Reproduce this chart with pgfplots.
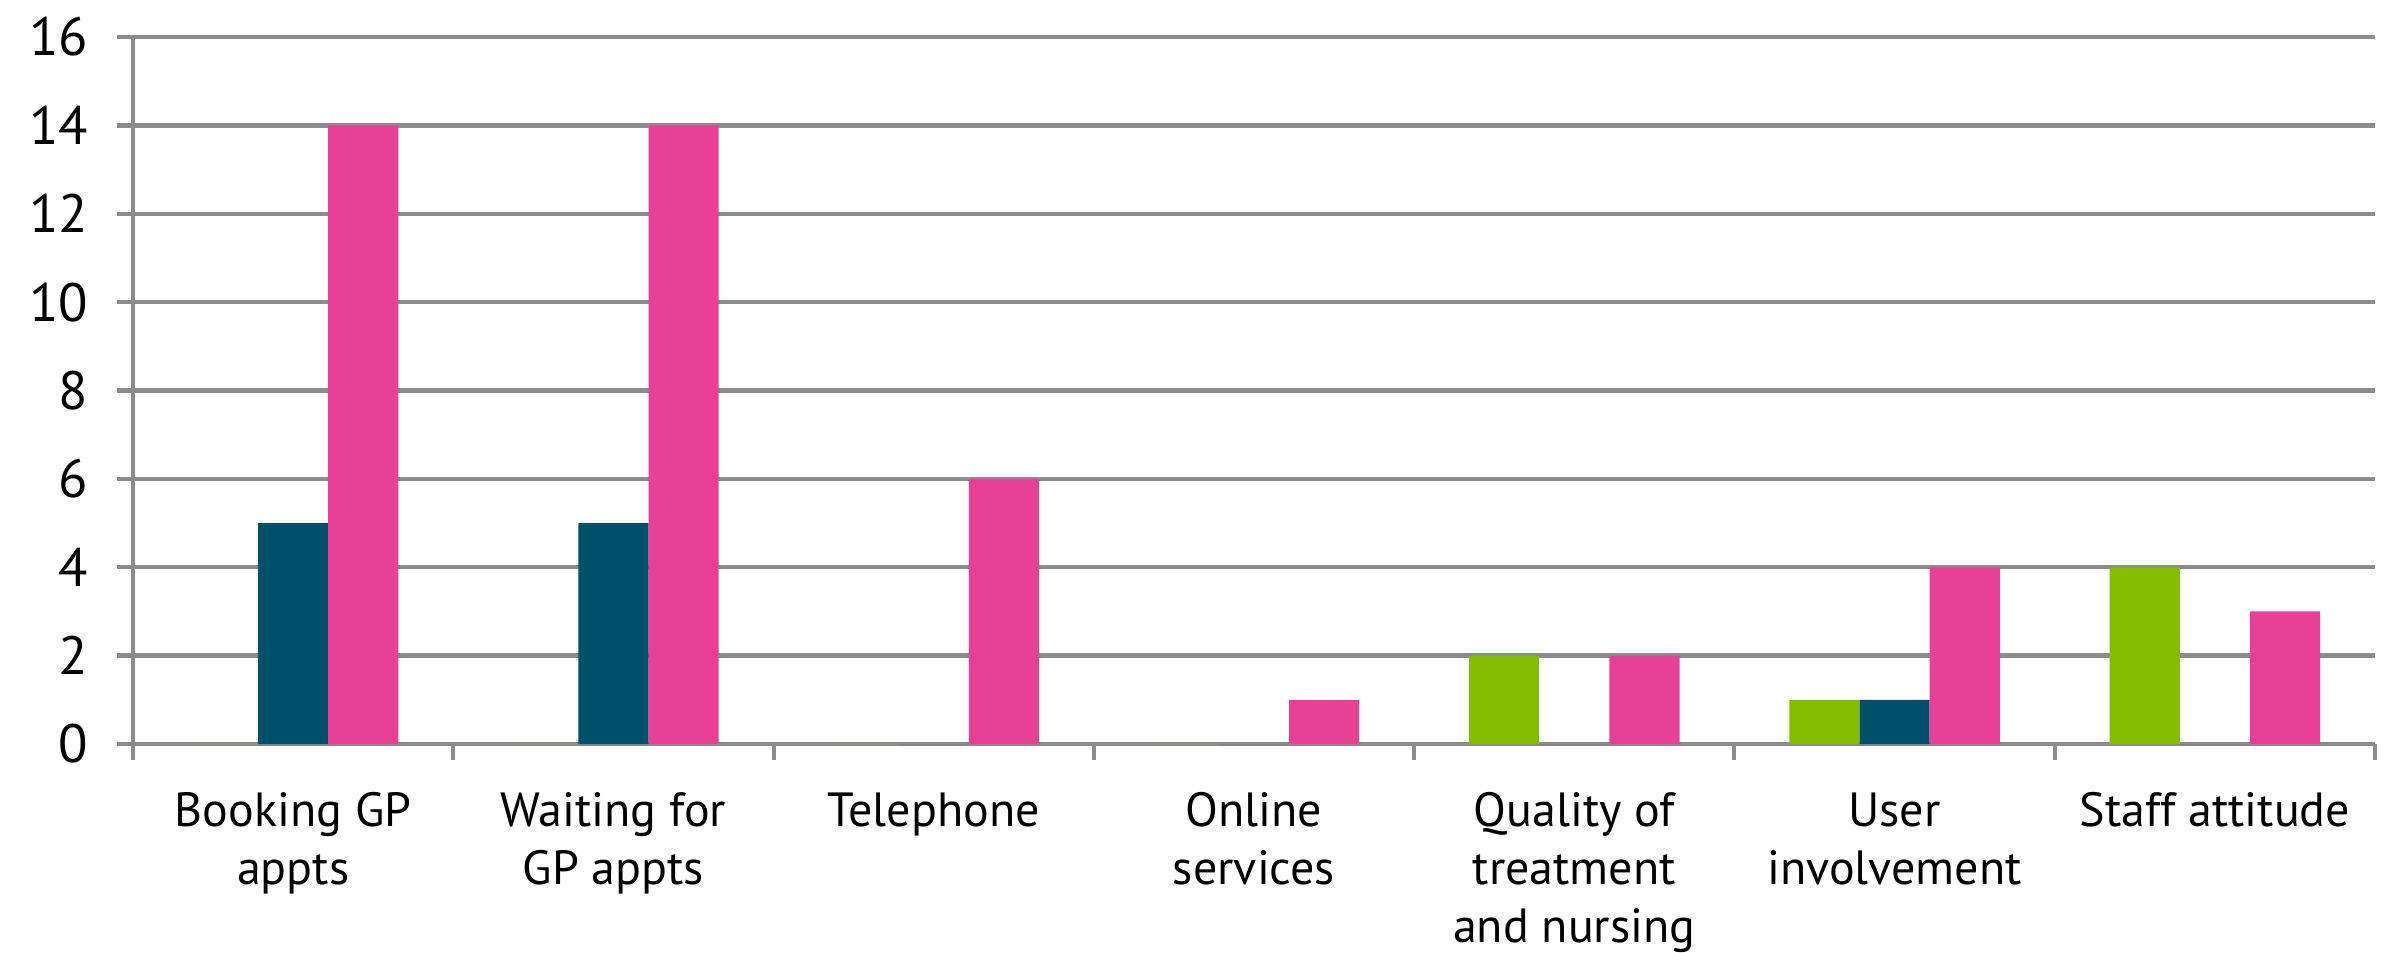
\documentclass[border=0pt]{standalone}
\usepackage{pgfplots}
\pgfplotsset{compat=1.18}
\usepackage{fontspec}
\setmainfont{PT Sans}
\definecolor{cgreen}{RGB}{132,189,0}
\definecolor{cteal}{RGB}{0,80,107}
\definecolor{cpink}{RGB}{232,64,150}
\definecolor{cgrid}{RGB}{140,140,140}
\begin{document}
\fontsize{12pt}{14.5pt}\selectfont
\begin{tikzpicture}
\useasboundingbox (-33.25pt,-52pt) rectangle (568pt,186pt);
\begin{axis}[
  at={(0,0)}, anchor=south west,
  scale only axis,
  width=560.5pt, height=176.75pt,
  xmin=-0.5, xmax=6.5,
  ymin=0, ymax=16,
  ytick={0,2,...,16},
  xtick={0,...,6},
  xticklabels={{Booking GP\\appts},{Waiting for\\GP appts},{Telephone},{Online\\services},{Quality of\\treatment\\and nursing},{User\\involvement},{Staff attitude}},
  minor xtick={-0.5,0.5,...,6.5},
  axis x line*=bottom, axis y line*=left,
  axis line style={cgrid, line width=1.1pt, -},
  ymajorgrids,
  grid style={cgrid, line width=1.1pt},
  major y tick style={cgrid, line width=1.1pt},
  major x tick style={draw=none},
  minor x tick style={cgrid, line width=1pt},
  tick align=outside,
  major tick length=4pt,
  minor tick length=4pt,
  xticklabel style={align=center, font=\fontsize{12pt}{14.5pt}\selectfont, text=black, yshift=-4pt},
  yticklabel style={font=\fontsize{13.5pt}{15pt}\selectfont, text=black, xshift=-3pt},
  /pgf/number format/assume math mode=true,
  ybar=0pt, bar width=0.219,
  clip=false,
]
\addplot[fill=cgreen, draw=none] coordinates {(0,0) (1,0) (2,0) (3,0) (4,2) (5,1) (6,4)};
\addplot[fill=cteal, draw=none] coordinates {(0,5) (1,5) (2,0) (3,0) (4,0) (5,1) (6,0)};
\addplot[fill=cpink, draw=none] coordinates {(0,14) (1,14) (2,6) (3,1) (4,2) (5,4) (6,3)};
\end{axis}
\end{tikzpicture}
\end{document}
